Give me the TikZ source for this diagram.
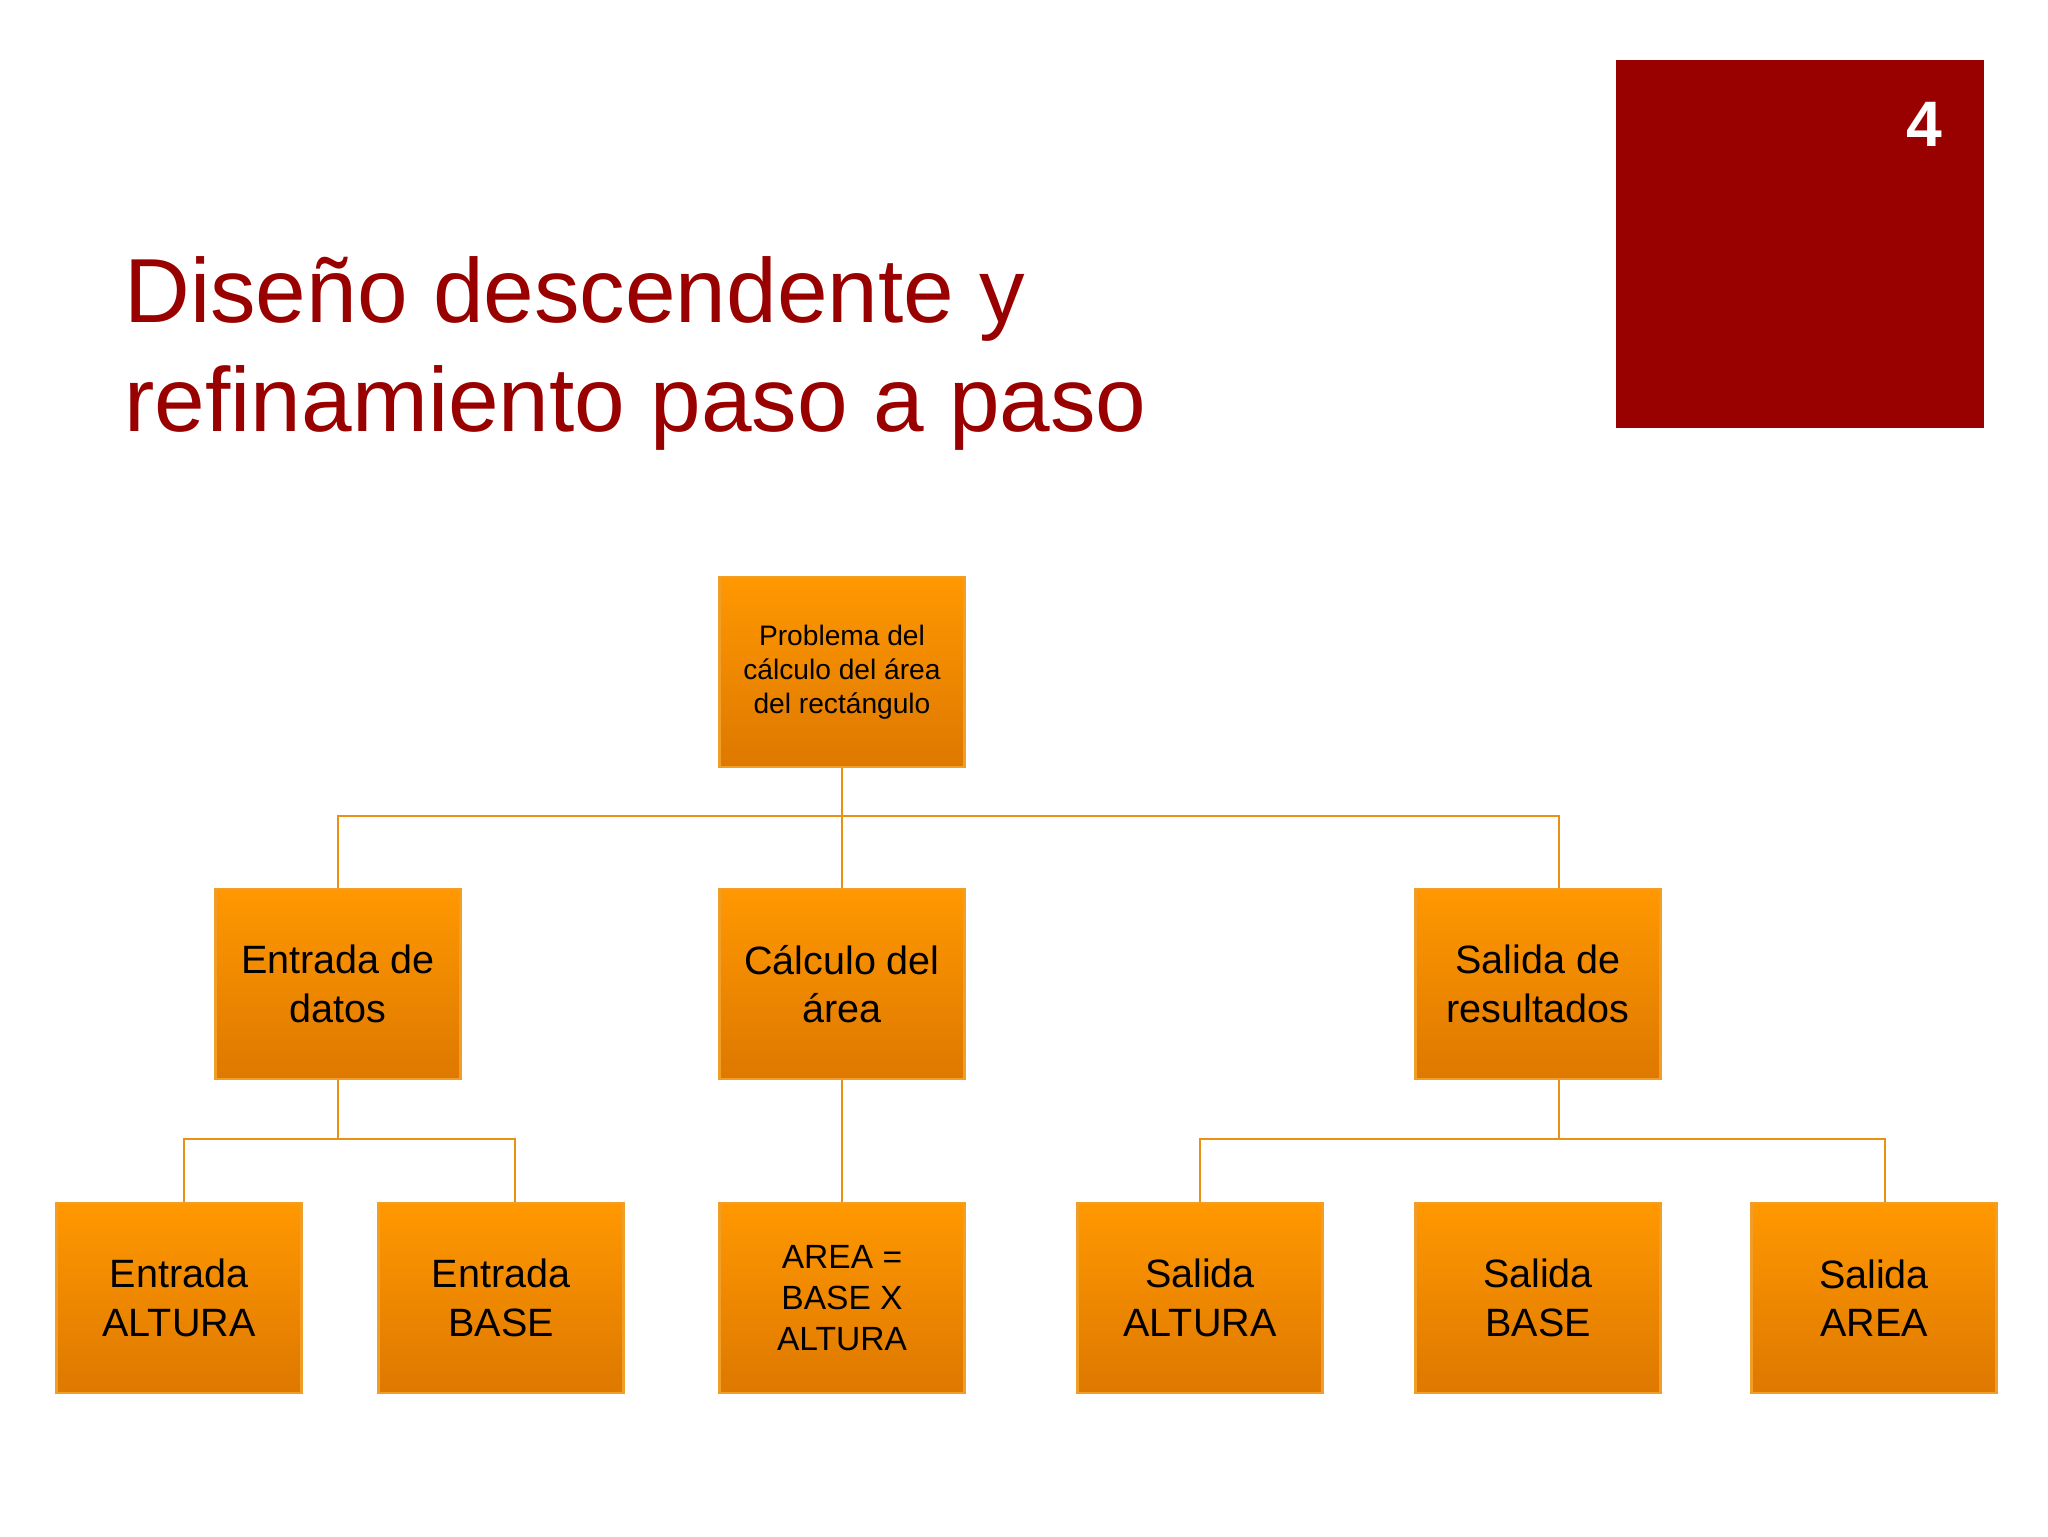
\documentclass[tikz,border=0pt]{standalone}
\usepackage{fontspec}
\setmainfont{Liberation Sans}
\usepackage{xcolor}
\definecolor{titlered}{RGB}{153,0,0}
\definecolor{boxtop}{RGB}{255,152,0}
\definecolor{boxbot}{RGB}{222,120,0}
\definecolor{boxline}{RGB}{240,158,40}
\definecolor{linkcol}{RGB}{232,145,20}

\begin{document}
\begin{tikzpicture}[x=0.3516pt,y=-0.3516pt,
    box/.style={draw=boxline,line width=0.8pt,top color=boxtop,bottom color=boxbot,
        minimum width=86.1pt,minimum height=66.8pt,inner sep=2pt,align=center,
        font=\fontsize{13.9}{17}\selectfont},
    link/.style={draw=linkcol,line width=0.8pt}]
    \useasboundingbox (0,0) rectangle (2048,1536);
    \fill[titlered] (1616,60) rectangle (1984,428);
    \node[text=white,font=\fontsize{22.6}{26}\selectfont\bfseries] (num) at (1924,124) {4};
    \node[anchor=base west,inner sep=0pt,align=left,text=titlered,
        font=\fontsize{32}{38}\selectfont] (title) at (124,431)
        {Diseño descendente y\\refinamiento paso a paso};

    \node[box,font=\fontsize{9.9}{12}\selectfont] (prob) at (842,672)
        {Problema del\\cálculo del área\\del rectángulo};
    \node[box] (datos) at (338,984) {Entrada de\\datos};
    \node[box] (calc) at (842,984) {Cálculo del\\área};
    \node[box] (salida) at (1538,984) {Salida de\\resultados};
    \node[box] (entalt) at (179,1298) {Entrada\\ALTURA};
    \node[box] (entbase) at (501,1298) {Entrada\\BASE};
    \node[box,font=\fontsize{11.8}{14.5}\selectfont] (area) at (842,1298)
        {AREA =\\BASE X\\ALTURA};
    \node[box] (salalt) at (1200,1298) {Salida\\ALTURA};
    \node[box] (salbase) at (1538,1298) {Salida\\BASE};
    \node[box] (salarea) at (1874,1298) {Salida\\AREA};

    \draw[link] (prob.south) -- ++(0,48) -| (datos.north);
    \draw[link] (prob.south) -- ++(0,48) -| ([xshift=7.4pt]salida.north);
    \draw[link] (prob) -- (calc);
    \draw[link] (calc) -- (area);
    \foreach \t/\s in {entalt/1.8pt,entbase/4.9pt}
        \draw[link] (datos.south) -- ++(0,59) -| ([xshift=\s]\t.north);
    \foreach \t/\s in {salalt/0pt,salarea/3.9pt}
        \draw[link] ([xshift=7.4pt]salida.south) -- ++(0,59) -| ([xshift=\s]\t.north);
\end{tikzpicture}
\end{document}
